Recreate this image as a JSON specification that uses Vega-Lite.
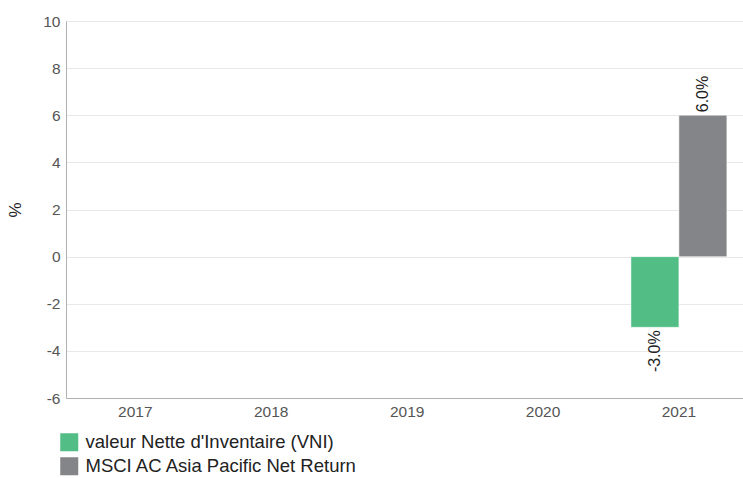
{
  "$schema": "https://vega.github.io/schema/vega-lite/v6.json",
  "autosize": {"type": "none"},
  "padding": {"left": 66, "top": 21, "right": 0, "bottom": 80},
  "width": 677,
  "height": 377,
  "background": "white",
  "config": {
    "font": "Liberation Sans",
    "view": {"stroke": null}
  },
  "data": {
    "values": [
      {"year": "2021", "series": "valeur Nette d'Inventaire (VNI)", "value": -3.0, "label": "-3.0%"},
      {"year": "2021", "series": "MSCI AC Asia Pacific Net Return", "value": 6.0, "label": "6.0%"}
    ]
  },
  "encoding": {
    "x": {
      "field": "year", "type": "nominal",
      "scale": {"domain": ["2017", "2018", "2019", "2020", "2021"], "paddingInner": 0.294, "paddingOuter": 0.138, "align": 0.57},
      "axis": {"title": null, "labelAngle": 0, "labelFontSize": 15.5, "labelColor": "#555555", "ticks": false, "domainColor": "#b0b0b0", "labelPadding": 6, "grid": false}
    },
    "xOffset": {"field": "series", "type": "nominal", "sort": ["valeur Nette d'Inventaire (VNI)", "MSCI AC Asia Pacific Net Return"]},
    "y": {
      "field": "value", "type": "quantitative",
      "scale": {"domain": [-6, 10], "nice": false},
      "axis": {"title": "%", "titleFontSize": 17, "titleFontWeight": "normal", "titleColor": "#222222", "titleAngle": -90, "titlePadding": 18, "values": [-6, -4, -2, 0, 2, 4, 6, 8, 10], "labelExpr": "toString(datum.value)", "labelFontSize": 15.5, "labelColor": "#555555", "ticks": false, "labelPadding": 6, "domainColor": "#b0b0b0", "gridColor": "#e8e8e8"}
    }
  },
  "layer": [
    {
      "mark": {"type": "bar", "stroke": "white", "strokeWidth": 0.5},
      "encoding": {
        "color": {
          "field": "series", "type": "nominal",
          "scale": {"domain": ["valeur Nette d'Inventaire (VNI)", "MSCI AC Asia Pacific Net Return"], "range": ["#52be85", "#848589"]},
          "legend": {"title": null, "orient": "none", "legendX": -6, "legendY": 412, "direction": "vertical", "symbolType": "square", "symbolSize": 324, "symbolStrokeWidth": 0, "symbolOpacity": 1, "labelFontSize": 18.5, "labelColor": "#222222", "rowPadding": 5, "padding": 0, "labelOffset": 7, "labelLimit": 400}
        }
      }
    },
    {
      "transform": [{"filter": "datum.value >= 0"}],
      "mark": {"type": "text", "angle": -90, "align": "left", "baseline": "middle", "dx": 3, "fontSize": 16, "color": "#222222"},
      "encoding": {"text": {"field": "label"}}
    },
    {
      "transform": [{"filter": "datum.value < 0"}],
      "mark": {"type": "text", "angle": -90, "align": "right", "baseline": "middle", "dx": -3, "fontSize": 16, "color": "#222222"},
      "encoding": {"text": {"field": "label"}}
    }
  ]
}
